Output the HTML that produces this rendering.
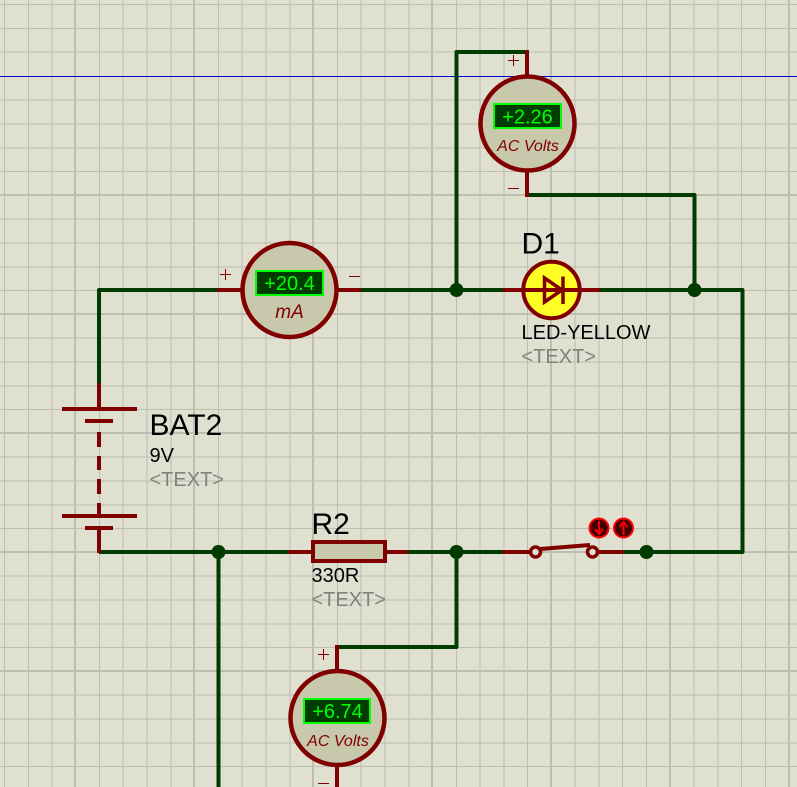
<!DOCTYPE html>
<html>
<head>
<meta charset="utf-8">
<style>
html,body{margin:0;padding:0;background:#e0e0d1;}
svg{display:block;}
text{font-family:"Liberation Sans",sans-serif;}
</style>
</head>
<body>
<svg width="797" height="787" viewBox="0 0 797 787" xmlns="http://www.w3.org/2000/svg">
<rect width="797" height="787" fill="#e0e0d1"/>
<g stroke="#bdbdb0" stroke-width="1" shape-rendering="crispEdges" fill="none">
<path d="M4.5 0V787M28.5 0V787M52 0V787M99.5 0V787M123 0V787M147 0V787M171 0V787M218.5 0V787M242 0V787M266 0V787M290 0V787M337.5 0V787M361 0V787M385 0V787M409 0V787M456.5 0V787M480 0V787M504 0V787M527.5 0V787M575 0V787M599 0V787M622.5 0V787M646.5 0V787M694 0V787M718 0V787M741.5 0V787M765.5 0V787"/>
<path d="M0 4.5H797M0 28.5H797M0 52H797M0 100H797M0 124H797M0 148H797M0 171.5H797M0 219H797M0 243H797M0 267H797M0 290.5H797M0 338H797M0 362H797M0 386H797M0 409.5H797M0 457H797M0 481H797M0 505H797M0 528.5H797M0 576H797M0 600H797M0 624H797M0 647.5H797M0 695H797M0 719H797M0 743H797M0 766.5H797"/>
</g>
<g stroke="#bdbdb0" stroke-width="2" shape-rendering="crispEdges" fill="none">
<path d="M75 0V787M194 0V787M313 0V787M432 0V787M551 0V787M670 0V787M789 0V787"/>
<path d="M0 195H797M0 314H797M0 433H797M0 552H797M0 671H797"/>
</g>
<path d="M0 76.5H797" stroke="#0000d0" stroke-width="1" shape-rendering="crispEdges"/>

<!-- wires -->
<g stroke="#003c00" stroke-width="4" fill="none" stroke-linejoin="round" stroke-linecap="butt">
<path d="M99 385V290H218"/>
<path d="M360 290H504"/>
<path d="M600 290H742.5V552H624"/>
<path d="M456.5 290V52H527"/>
<path d="M527 195H694.5V290"/>
<path d="M99 552H290"/>
<path d="M408 552H504"/>
<path d="M218.5 552V787"/>
<path d="M456.5 552V647H337"/>
</g>
<g fill="#003c00">
<circle cx="456.5" cy="290" r="7"/>
<circle cx="694.5" cy="290" r="7"/>
<circle cx="218.5" cy="552" r="7"/>
<circle cx="456.5" cy="552" r="7"/>
<circle cx="646.5" cy="552" r="7"/>
</g>

<!-- top voltmeter -->
<path d="M527 50V76M527 170V197" stroke="#800000" stroke-width="4" fill="none"/>
<circle cx="527.5" cy="123.5" r="47" fill="#c8c8ad" stroke="#800000" stroke-width="4.5"/>
<path d="M508 60.5H519M513.5 55V66M508 188.5H519" stroke="#800000" stroke-width="1" fill="none" shape-rendering="crispEdges"/>
<rect x="494" y="104" width="67" height="24" fill="#003c00" stroke="#00ff00" stroke-width="2"/>
<text x="527.5" y="123.5" font-size="20" fill="#00ff00" text-anchor="middle">+2.26</text>
<text x="528" y="151" font-size="16" font-style="italic" fill="#800000" text-anchor="middle">AC Volts</text>

<!-- ammeter -->
<path d="M217 290H243M337 290H361" stroke="#800000" stroke-width="4" fill="none"/>
<circle cx="289.5" cy="290" r="47" fill="#c8c8ad" stroke="#800000" stroke-width="4.5"/>
<path d="M220 274.5H231M225.5 269V280M349 276.5H360" stroke="#800000" stroke-width="1" fill="none" shape-rendering="crispEdges"/>
<rect x="256" y="271" width="67" height="24" fill="#003c00" stroke="#00ff00" stroke-width="2"/>
<text x="289.5" y="290" font-size="20" fill="#00ff00" text-anchor="middle">+20.4</text>
<text x="289.5" y="318" font-size="19" font-style="italic" fill="#800000" text-anchor="middle">mA</text>

<!-- LED -->
<circle cx="551.5" cy="290" r="28.2" fill="#ffff26" stroke="#800000" stroke-width="4"/>
<path d="M503 290H600" stroke="#800000" stroke-width="4" fill="none"/>
<path d="M544.5 278V302L562 290ZM563 276.5V304" stroke="#800000" stroke-width="3.5" fill="none" stroke-linejoin="miter"/>
<text x="521.5" y="253.5" font-size="30" fill="#000">D1</text>
<text x="521.5" y="339" font-size="20" fill="#000">LED-YELLOW</text>
<text x="521.5" y="363" font-size="20" fill="#808080">&lt;TEXT&gt;</text>

<!-- battery -->
<g stroke="#800000" fill="none" stroke-width="4">
<path d="M99 383V408"/>
<path d="M62 409H137"/>
<path d="M85 421H113"/>
<path d="M99 432V447M99 456V470M99 479V494"/>
<path d="M99 503V516"/>
<path d="M62 516H137"/>
<path d="M85 528H113"/>
<path d="M99 528V553"/>
</g>
<text x="149.5" y="435" font-size="30" fill="#000">BAT2</text>
<text x="149.5" y="462" font-size="20" fill="#000">9V</text>
<text x="149.5" y="486" font-size="20" fill="#808080">&lt;TEXT&gt;</text>

<!-- resistor -->
<path d="M288 552H408" stroke="#800000" stroke-width="4" fill="none"/>
<rect x="313" y="542" width="72" height="19" fill="#c8c8ad" stroke="#800000" stroke-width="4"/>
<text x="311.5" y="534" font-size="30" fill="#000">R2</text>
<text x="311.5" y="582" font-size="20" fill="#000">330R</text>
<text x="311.5" y="606" font-size="20" fill="#808080">&lt;TEXT&gt;</text>

<!-- switch -->
<path d="M503 552H530M598 552H624" stroke="#800000" stroke-width="4" fill="none"/>
<path d="M540 549L590 545" stroke="#800000" stroke-width="4" fill="none"/>
<circle cx="535.5" cy="552" r="5" fill="#e0e0d1" stroke="#800000" stroke-width="3.5"/>
<circle cx="592.5" cy="552" r="5" fill="#e0e0d1" stroke="#800000" stroke-width="3.5"/>
<circle cx="599" cy="528" r="9.5" fill="#400000" stroke="#ff0000" stroke-width="2"/>
<circle cx="623.5" cy="528" r="9.5" fill="#400000" stroke="#ff0000" stroke-width="2"/>
<path d="M599 521V532M595 529L599 534L603 529" stroke="#ff0000" stroke-width="2" fill="none"/>
<path d="M623.5 535V524M619.5 527L623.5 522L627.5 527" stroke="#ff0000" stroke-width="2" fill="none"/>

<!-- bottom voltmeter -->
<path d="M337 645V671M337 765V787" stroke="#800000" stroke-width="4" fill="none"/>
<circle cx="337.5" cy="718" r="47" fill="#c8c8ad" stroke="#800000" stroke-width="4.5"/>
<path d="M318 654.5H329M323.5 649V660M318 783.5H329" stroke="#800000" stroke-width="1" fill="none" shape-rendering="crispEdges"/>
<rect x="304" y="699" width="66" height="24" fill="#003c00" stroke="#00ff00" stroke-width="2"/>
<text x="337.5" y="718" font-size="20" fill="#00ff00" text-anchor="middle">+6.74</text>
<text x="338" y="746" font-size="16" font-style="italic" fill="#800000" text-anchor="middle">AC Volts</text>
</svg>
</body>
</html>
